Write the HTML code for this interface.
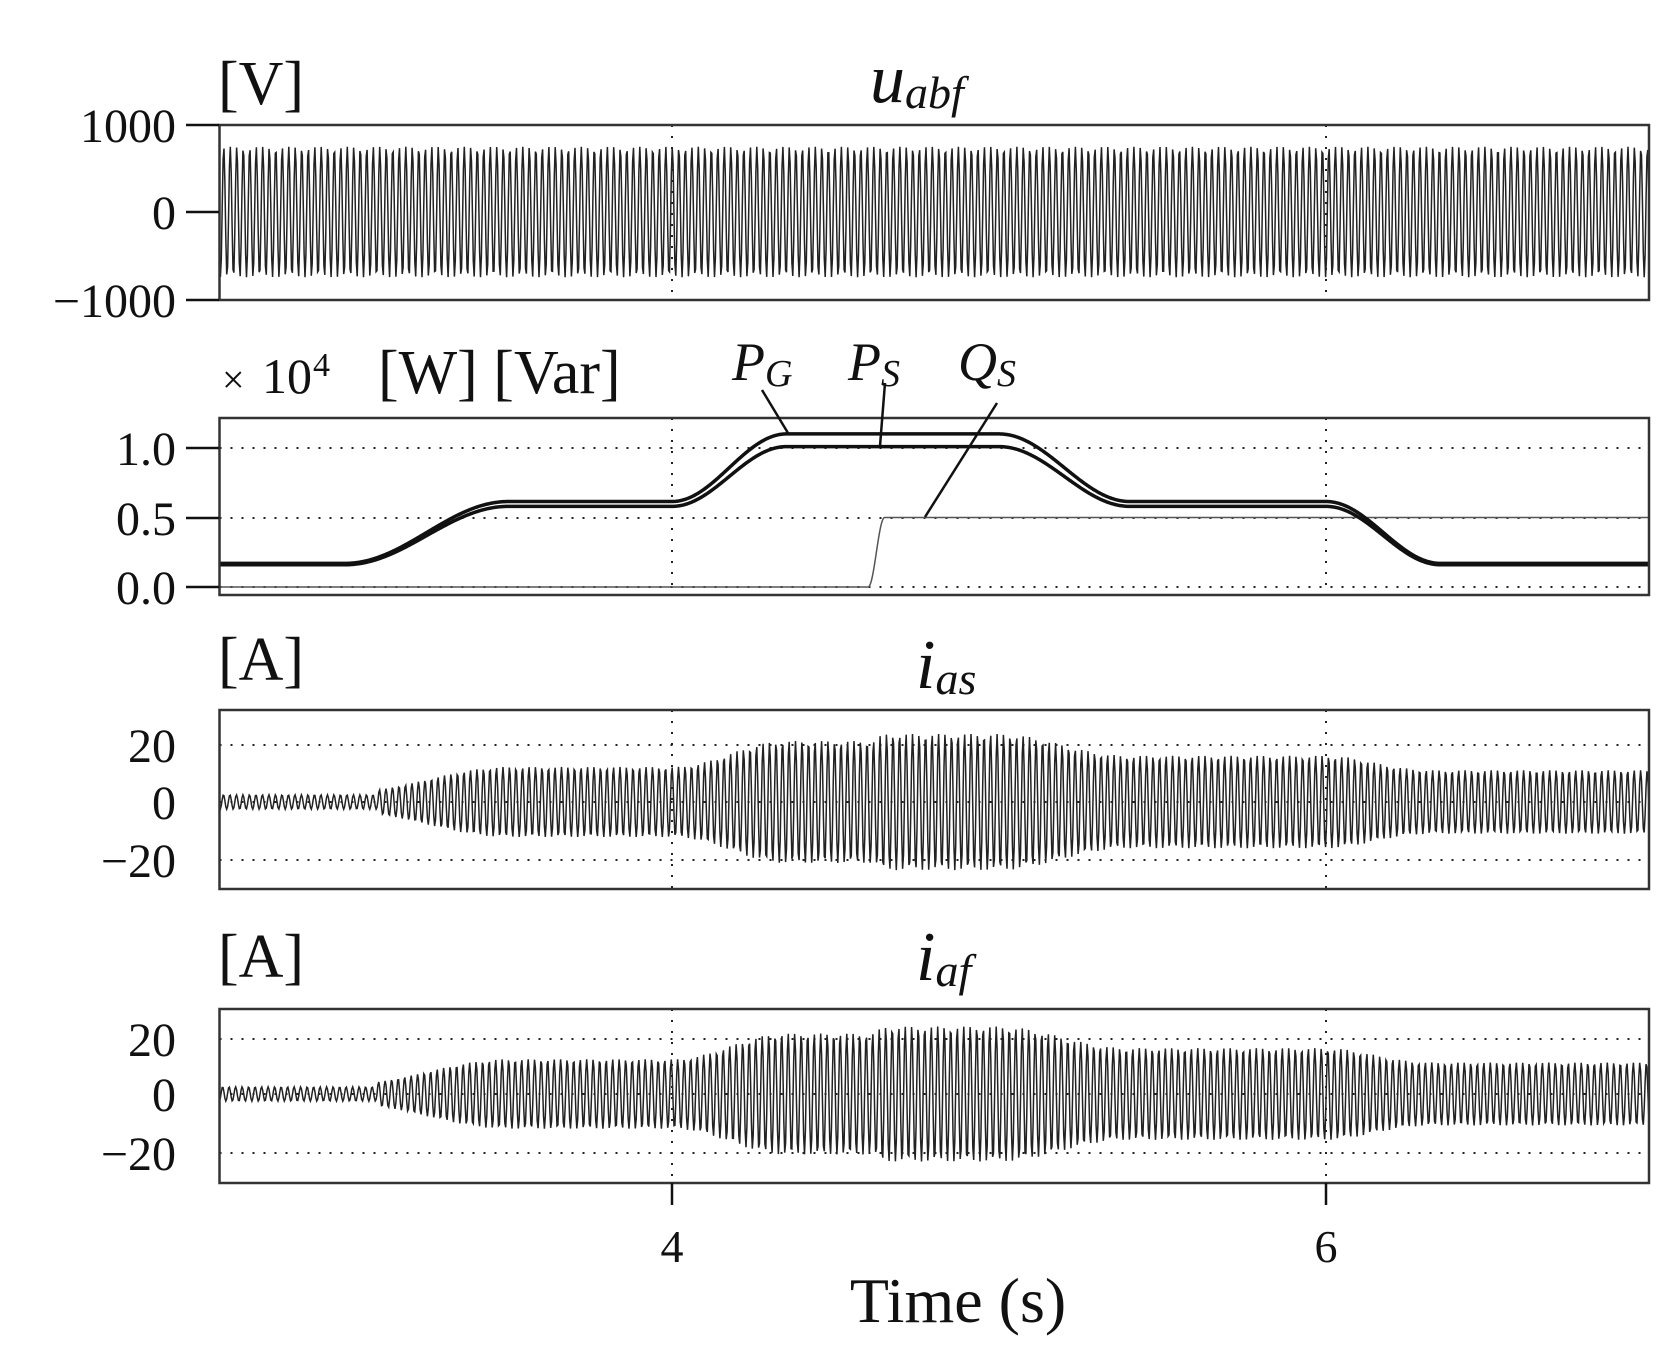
<!DOCTYPE html>
<html><head><meta charset="utf-8">
<style>
html,body{margin:0;padding:0;background:#fff;}
svg{display:block;}
text{font-family:"Liberation Serif",serif;fill:#111;}
</style></head>
<body>
<svg id="s" width="1679" height="1363" viewBox="0 0 1679 1363" xmlns="http://www.w3.org/2000/svg">
<g id="grid" stroke="#222" stroke-width="2" stroke-dasharray="2,9" fill="none"></g>
<g id="sig"></g>
<g id="box" fill="none" stroke="#333" stroke-width="2.5"></g>
<g font-size="48" text-anchor="end">
<text x="176" y="142">1000</text>
<text x="176" y="229">0</text>
<text x="176" y="317">−1000</text>
<text x="176" y="465">1.0</text>
<text x="176" y="535">0.5</text>
<text x="176" y="604">0.0</text>
<text x="176" y="762">20</text>
<text x="176" y="819">0</text>
<text x="176" y="877">−20</text>
<text x="176" y="1056">20</text>
<text x="176" y="1111">0</text>
<text x="176" y="1170">−20</text>
</g>
<g font-size="62">
<text x="218" y="104">[V]</text>
<text x="218" y="680">[A]</text>
<text x="218" y="977">[A]</text>
</g>
<text x="222" y="393" font-size="40">×</text>
<text x="262" y="393" font-size="50">10</text>
<text x="313" y="376" font-size="34">4</text>
<text x="378" y="393" font-size="62">[W] [Var]</text>
<g font-style="italic">
<text x="870" y="102" font-size="70">u<tspan font-size="46" dy="6">abf</tspan></text>
<text x="916" y="688" font-size="70">i<tspan font-size="46" dy="6">as</tspan></text>
<text x="916" y="980" font-size="70">i<tspan font-size="46" dy="6">af</tspan></text>
<text x="732" y="380" font-size="54">P<tspan font-size="38" dy="6">G</tspan></text>
<text x="848" y="380" font-size="54">P<tspan font-size="38" dy="6">S</tspan></text>
<text x="958" y="380" font-size="54">Q<tspan font-size="38" dy="6">S</tspan></text>
</g>
<g stroke="#111" stroke-width="2.5">
<line x1="762" y1="390" x2="788" y2="433"/>
<line x1="885" y1="383" x2="880" y2="446"/>
<line x1="997" y1="403" x2="925" y2="517"/>
<line x1="672" y1="1183" x2="672" y2="1205"/>
<line x1="1326" y1="1183" x2="1326" y2="1205"/>
<line x1="186" y1="125" x2="219" y2="125"/>
<line x1="186" y1="212" x2="219" y2="212"/>
<line x1="186" y1="300" x2="219" y2="300"/>
<line x1="186" y1="448" x2="219" y2="448"/>
<line x1="186" y1="518" x2="219" y2="518"/>
<line x1="186" y1="587" x2="219" y2="587"/>
</g>
<text x="672" y="1262" font-size="46" text-anchor="middle">4</text>
<text x="1326" y="1262" font-size="46" text-anchor="middle">6</text>
<text x="958" y="1322" font-size="64" text-anchor="middle">Time (s)</text>
</svg>
<script>
var L=219.5,R=1649;
function X(t){return 672+(t-4)*327;}
function T(x){return 4+(x-672)/327;}
function sm(t,a,b){if(t<=a)return 0;if(t>=b)return 1;return (1-Math.cos(Math.PI*(t-a)/(b-a)))/2;}
function PS(t){return 0.16+0.42*sm(t,3.0,3.5)+0.43*sm(t,4.0,4.35)-0.43*sm(t,5.0,5.4)-0.42*sm(t,6.0,6.35);}
function PG(t){var p=PS(t);var e=Math.max(0,(p-0.58)/0.42);var m=Math.max(0,Math.min(1,(p-0.16)/0.42));return p+0.01+0.025*m+0.055*e;}
function QS(t){return 0.5*sm(t,4.6,4.65);}
var panels=[[125,300],[418,595],[710,889],[1009,1183]];
var ns="http://www.w3.org/2000/svg";
function add(g,tag,at){var e=document.createElementNS(ns,tag);for(var k in at)e.setAttribute(k,at[k]);document.getElementById(g).appendChild(e);return e;}
panels.forEach(function(p){add("box","rect",{x:L,y:p[0],width:R-L,height:p[1]-p[0]});
add("grid","line",{x1:672,y1:p[0],x2:672,y2:p[1]});add("grid","line",{x1:1326,y1:p[0],x2:1326,y2:p[1]});});
[448,518,587,745,860,1039,1153,802,1094].forEach(function(y){add("grid","line",{x1:L,y1:y,x2:R,y2:y});});
var f=50.3;
var d="";
for(var x=L;x<=R;x+=0.9){var t=T(x);var v=750*Math.sin(2*Math.PI*f*t);var y=212-v*87/1000;d+=(d?"L":"M")+x.toFixed(2)+","+y.toFixed(2);}
add("sig","path",{d:d,fill:"none",stroke:"#222","stroke-width":"1.5"});
function curve(fn,w,col){var d="";for(var x=L;x<=R;x+=1){var y=587-fn(T(x))*139;d+=(d?"L":"M")+x.toFixed(1)+","+y.toFixed(2);}add("sig","path",{d:d,fill:"none",stroke:col,"stroke-width":w});}
curve(QS,1.5,"#555");
curve(PG,3.5,"#111");curve(PS,3.5,"#111");
function cur(y0,sc,ph){var d="";for(var x=L;x<=R;x+=0.9){var t=T(x);var P=PS(t),Q=QS(t);var A=21*Math.sqrt(P*P+Q*Q);if(t<3.1)A=Math.min(A,2.5);var v=A*Math.sin(2*Math.PI*f*t+ph);var y=y0-v*sc;d+=(d?"L":"M")+x.toFixed(2)+","+y.toFixed(2);}add("sig","path",{d:d,fill:"none",stroke:"#222","stroke-width":"1.5"});}
cur(802,57.5/20,0.3);cur(1094,57/20,1.1);
</script>
</body></html>
